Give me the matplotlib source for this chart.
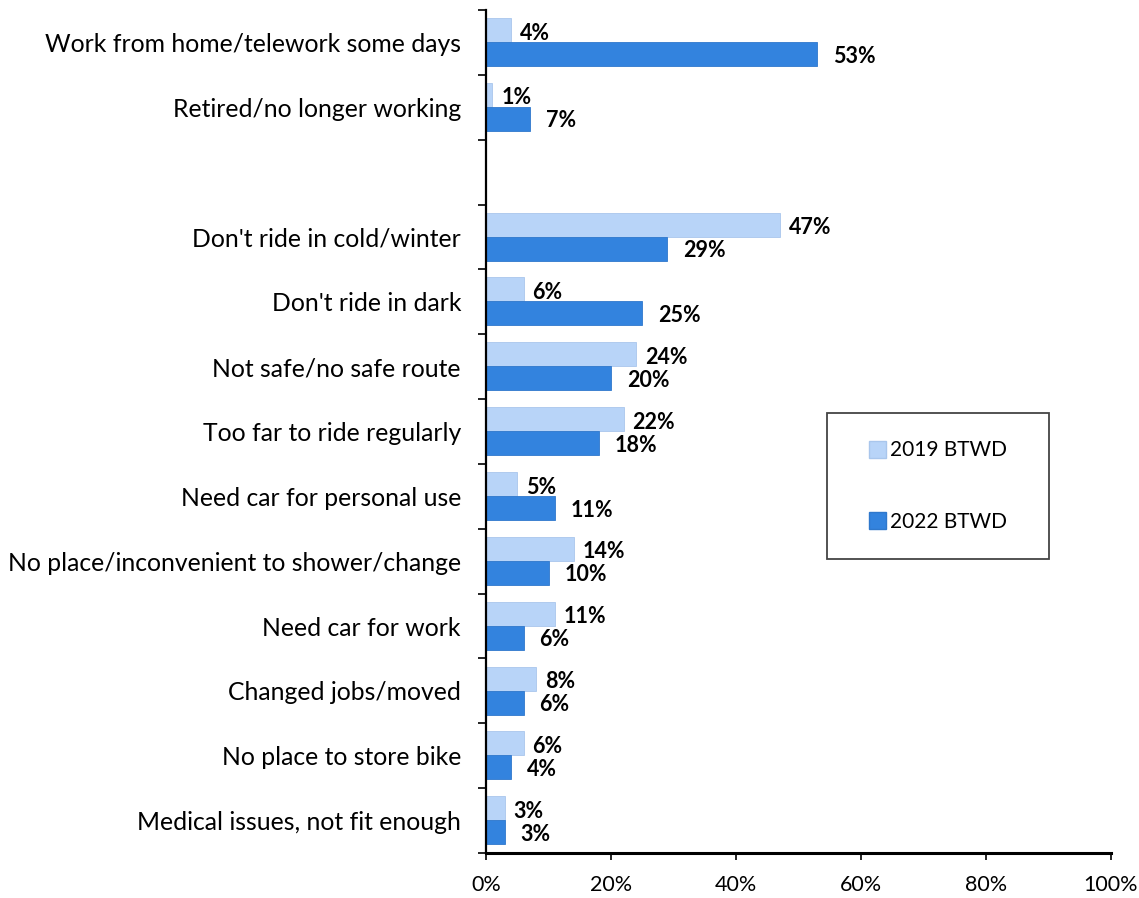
import matplotlib
matplotlib.use("Agg")
import matplotlib.pyplot as plt
from matplotlib.patches import Patch, Rectangle
import numpy as np

categories = [
    "Work from home/telework some days",
    "Retired/no longer working",
    "",
    "Don't ride in cold/winter",
    "Don't ride in dark",
    "Not safe/no safe route",
    "Too far to ride regularly",
    "Need car for personal use",
    "No place/inconvenient to shower/change",
    "Need car for work",
    "Changed jobs/moved",
    "No place to store bike",
    "Medical issues, not fit enough",
]
v2019 = [4, 1, None, 47, 6, 24, 22, 5, 14, 11, 8, 6, 3]
v2022 = [53, 7, None, 29, 25, 20, 18, 11, 10, 6, 6, 4, 3]
series_names = ["2019 BTWD", "2022 BTWD"]
xticks = [0, 20, 40, 60, 80, 100]

c_light = "#B8D4F8"
c_dark = "#3383DE"
FONT = "Lato"
plt.rcParams['font.family'] = [FONT, 'DejaVu Sans']

fig = plt.figure(figsize=(11.39, 8.98), dpi=100)
ax = fig.add_axes([486/1139, 1-853/898, (1111-486)/1139, (853-10)/898])

h = 0.37
for i, (a, b) in enumerate(zip(v2019, v2022)):
    if a is None:
        continue
    ax.barh(i - 0.19, a, height=h, color=c_light, edgecolor="#A9C6EC", linewidth=0.6)
    ax.barh(i + 0.18, b, height=h, color=c_dark, edgecolor="#2F78CC", linewidth=0.6)
    ax.annotate(f"{a}%", (a, i - 0.19), xytext=(9, -3), textcoords="offset pixels",
                ha="left", va="center", fontsize=15.5, fontweight="bold")
    ax.annotate(f"{b}%", (b, i + 0.18), xytext=(16, -2), textcoords="offset pixels",
                ha="left", va="center", fontsize=15.5, fontweight="bold")

ax.set_xlim(0, 100)
ax.set_ylim(len(categories) - 0.5, -0.5)
ax.set_xticks(xticks)
ax.set_xticklabels([f"{t}%" for t in xticks], fontsize=15.5)
ax.set_yticks(np.arange(len(categories)))
ax.set_yticklabels(categories, fontsize=17.8)
ax.set_yticks(np.arange(len(categories) + 1) - 0.5, minor=True)
ax.tick_params(axis="y", which="major", length=0, pad=18)
ax.tick_params(axis="y", which="minor", length=6, width=1.2, direction="out")
ax.tick_params(axis="x", which="major", length=5, width=1.2, direction="out", pad=11)
for s in ["top", "right"]:
    ax.spines[s].set_visible(False)
ax.spines["left"].set_linewidth(1.6)
ax.spines["bottom"].set_linewidth(2.2)

# legend box
fig.patches.append(Rectangle((827/1139, 1-559/898), (1049-827)/1139, (559-413)/898,
                             transform=fig.transFigure, fill=False, edgecolor="#444444",
                             linewidth=1.3))
handles = [Patch(facecolor=c_light, edgecolor="#A9C6EC"), Patch(facecolor=c_dark, edgecolor="#2F78CC")]
leg = fig.legend(handles, series_names, loc="center",
                 bbox_to_anchor=(938/1139, 1-486/898), bbox_transform=fig.transFigure,
                 frameon=False, fontsize=15, handlelength=0.85, handleheight=0.85,
                 handletextpad=0.2, labelspacing=2.45, borderpad=0, borderaxespad=0)

fig.savefig("out.png", dpi=100)
